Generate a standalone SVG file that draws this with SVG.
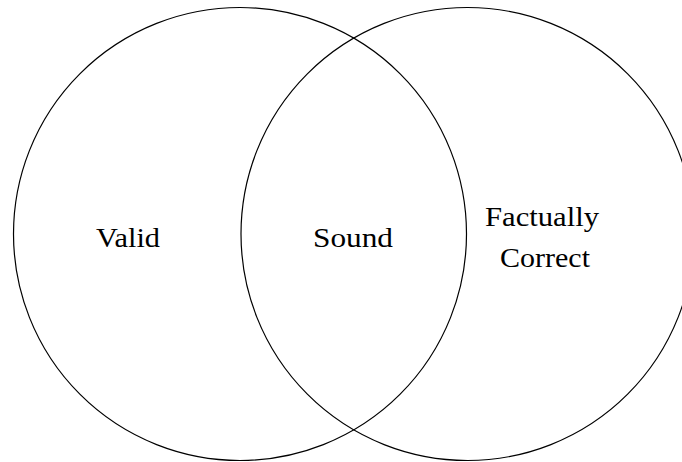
<svg xmlns="http://www.w3.org/2000/svg" width="682" height="462" viewBox="0 0 682 462">
<style>
.c{fill:none;stroke:#000;stroke-width:1.2}
.t{font-family:"Liberation Serif","Times New Roman",serif;font-size:27px;fill:#000;text-anchor:middle}
</style>
<rect width="682" height="462" fill="#fff"/>
<g id="valid"><circle class="c" cx="240" cy="234" r="226.5"/><text class="t" x="128" y="247" textLength="64" lengthAdjust="spacingAndGlyphs">Valid</text></g>
<g id="factually-correct"><circle class="c" cx="467.5" cy="234" r="226.5"/><text class="t" x="542" y="226" textLength="114" lengthAdjust="spacingAndGlyphs">Factually</text><text class="t" x="545" y="267" textLength="90" lengthAdjust="spacingAndGlyphs">Correct</text></g>
<g id="sound"><text class="t" x="353" y="247" textLength="80" lengthAdjust="spacingAndGlyphs">Sound</text></g>
<g id="connectors"/>
</svg>
